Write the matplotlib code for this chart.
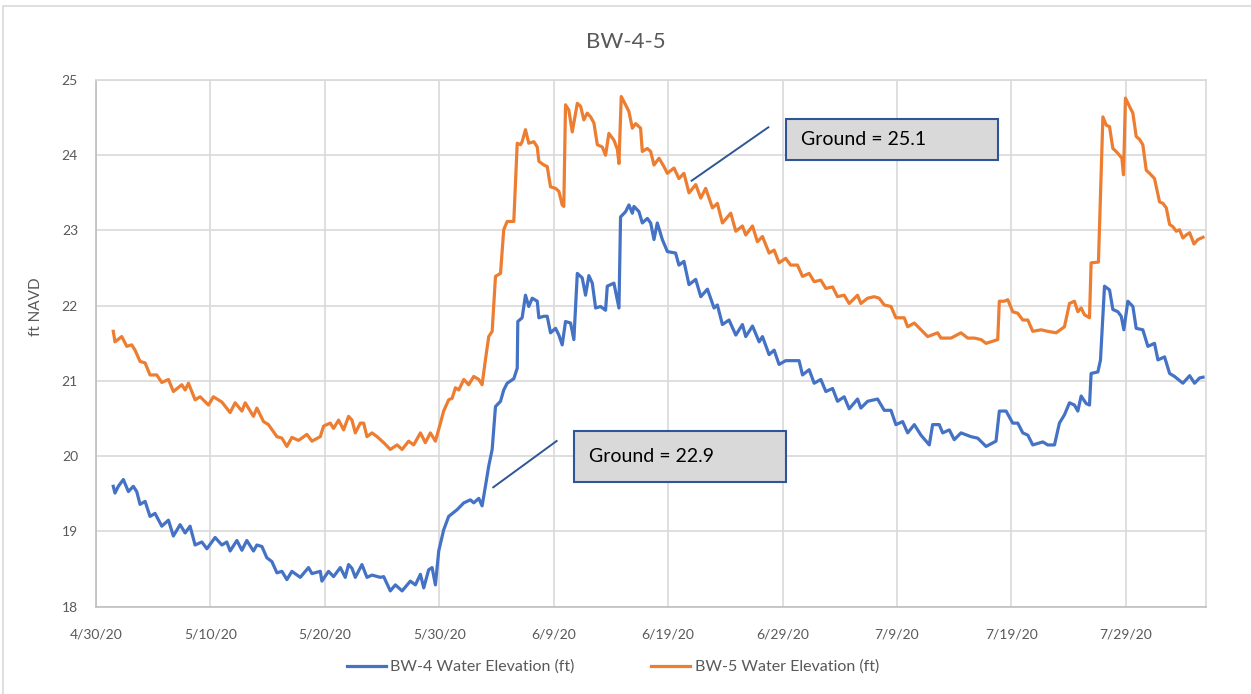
# python 3

import numpy as np
import pandas as pd
import matplotlib.pyplot as plt
import matplotlib.dates as mdates
from matplotlib.patches import Rectangle
from matplotlib.lines import Line2D

# days after 4/30/20 and water elevations (ft NAVD)
start = pd.Timestamp('2020-04-30')

bw4_days = [1.51, 1.66, 1.95, 2.39, 2.83, 3.26, 3.56, 3.85, 4.29, 4.72, 5.16, 5.75, 6.33, 6.76, 7.35, 7.79,
            8.22, 8.66, 9.25, 9.69, 10.41, 11.00, 11.43, 11.72, 12.31, 12.75, 13.18, 13.76, 14.06, 14.50,
            14.93, 15.37, 15.81, 16.25, 16.68, 17.12, 17.85, 18.57, 18.87, 19.60, 19.74, 20.32, 20.76,
            21.35, 21.78, 22.07, 22.37, 22.66, 23.24, 23.68, 24.12, 24.85, 25.14, 25.72, 26.16, 26.75,
            27.47, 27.91, 28.35, 28.64, 29.07, 29.37, 29.66, 29.95, 30.38, 30.82, 31.56, 32.14, 32.72,
            33.01, 33.45, 33.74, 34.03, 34.32, 34.62, 34.91, 35.35, 35.63, 35.93, 36.51, 36.81, 36.86,
            37.24, 37.53, 37.82, 38.12, 38.56, 38.70, 39.14, 39.43, 39.72, 40.16, 40.45, 40.74, 41.03,
            41.47, 41.76, 42.06, 42.49, 42.78, 43.07, 43.37, 43.66, 44.09, 44.53, 44.68, 45.26, 45.70,
            45.84, 46.28, 46.57, 46.87, 47.01, 47.45, 47.74, 48.18, 48.47, 48.76, 49.05, 49.49, 49.93,
            50.65, 50.94, 51.38, 51.82, 52.41, 52.85, 53.43, 54.01, 54.30, 54.74, 55.32, 55.91, 56.49,
            56.78, 57.37, 57.95, 58.24, 58.82, 59.26, 59.69, 60.27, 61.44, 61.74, 62.32, 62.76, 63.34,
            63.78, 64.37, 64.80, 65.38, 65.82, 66.55, 66.84, 67.43, 68.30, 68.88, 69.47, 69.90, 70.49,
            70.93, 71.51, 72.09, 72.82, 73.11, 73.69, 73.99, 74.57, 75.00, 75.59, 76.46, 77.05, 77.78,
            78.65, 78.94, 79.53, 80.11, 80.55, 80.99, 81.43, 81.86, 82.74, 83.17, 83.76, 84.19, 84.63,
            85.07, 85.50, 85.80, 86.09, 86.53, 86.82, 86.96, 87.55, 87.78, 88.13, 88.57, 88.86, 89.30,
            89.59, 89.82, 90.17, 90.61, 90.90, 91.48, 91.92, 92.50, 92.80, 93.38, 93.82, 94.25, 94.98,
            95.57, 96.00, 96.44, 96.74]
bw4_elev = [19.60, 19.51, 19.60, 19.69, 19.53, 19.60, 19.53, 19.36, 19.40, 19.20, 19.24, 19.07, 19.15, 18.94,
            19.09, 18.98, 19.07, 18.82, 18.86, 18.77, 18.92, 18.82, 18.86, 18.74, 18.88, 18.75, 18.88,
            18.74, 18.82, 18.80, 18.65, 18.60, 18.45, 18.47, 18.36, 18.47, 18.39, 18.52, 18.44, 18.47,
            18.34, 18.47, 18.40, 18.52, 18.39, 18.56, 18.51, 18.39, 18.56, 18.39, 18.42, 18.39, 18.40,
            18.21, 18.29, 18.21, 18.34, 18.29, 18.43, 18.25, 18.49, 18.52, 18.29, 18.74, 19.02, 19.20,
            19.29, 19.38, 19.42, 19.38, 19.44, 19.34, 19.60, 19.87, 20.09, 20.66, 20.73, 20.88, 20.97,
            21.03, 21.17, 21.79, 21.84, 22.14, 21.99, 22.10, 22.06, 21.84, 21.86, 21.86, 21.64, 21.70,
            21.61, 21.48, 21.79, 21.77, 21.55, 22.43, 22.37, 22.14, 22.40, 22.30, 21.97, 21.99, 21.94,
            22.26, 22.30, 21.97, 23.18, 23.25, 23.34, 23.23, 23.32, 23.25, 23.10, 23.16, 23.10, 22.88,
            23.10, 22.88, 22.72, 22.70, 22.54, 22.59, 22.28, 22.35, 22.12, 22.22, 21.97, 22.01, 21.75,
            21.81, 21.61, 21.75, 21.59, 21.73, 21.52, 21.59, 21.35, 21.41, 21.22, 21.27, 21.27, 21.08,
            21.15, 20.97, 21.02, 20.86, 20.90, 20.73, 20.79, 20.63, 20.76, 20.64, 20.73, 20.76, 20.61,
            20.61, 20.42, 20.46, 20.31, 20.42, 20.28, 20.15, 20.42, 20.42, 20.31, 20.35, 20.22, 20.31,
            20.26, 20.24, 20.13, 20.20, 20.60, 20.60, 20.44, 20.44, 20.31, 20.28, 20.15, 20.19, 20.15,
            20.15, 20.44, 20.55, 20.71, 20.68, 20.60, 20.80, 20.70, 20.68, 21.10, 21.12, 21.28, 22.26,
            22.21, 21.95, 21.92, 21.86, 21.68, 22.06, 21.99, 21.70, 21.68, 21.46, 21.50, 21.28, 21.32,
            21.10, 21.06, 20.97, 21.07, 20.97, 21.04, 21.05]

bw5_days = [1.51, 1.66, 2.25, 2.69, 3.12, 3.41, 3.85, 4.29, 4.72, 5.31, 5.75, 6.33, 6.76, 7.50, 7.79, 8.08,
            8.66, 9.10, 9.83, 10.26, 11.00, 11.72, 12.16, 12.75, 13.04, 13.76, 14.06, 14.64, 15.07,
            15.81, 16.25, 16.68, 17.12, 17.70, 18.43, 18.87, 19.60, 19.89, 20.47, 20.76, 21.20, 21.64,
            22.07, 22.37, 22.66, 23.10, 23.39, 23.68, 24.12, 24.56, 25.14, 25.72, 26.31, 26.75, 27.32,
            27.76, 28.35, 28.78, 29.22, 29.66, 30.10, 30.38, 30.82, 31.12, 31.41, 31.70, 32.14, 32.57,
            33.01, 33.45, 33.74, 34.03, 34.32, 34.62, 34.91, 35.35, 35.63, 35.93, 36.51, 36.81, 37.10,
            37.24, 37.53, 37.82, 38.26, 38.56, 38.70, 39.14, 39.43, 39.72, 40.16, 40.45, 40.74, 40.88,
            41.03, 41.32, 41.62, 42.06, 42.35, 42.63, 42.93, 43.22, 43.51, 43.81, 44.24, 44.53, 44.82,
            45.26, 45.56, 45.70, 45.90, 46.28, 46.57, 46.87, 47.16, 47.59, 47.74, 48.18, 48.47, 48.76,
            49.20, 49.63, 49.93, 50.51, 50.94, 51.38, 51.82, 52.41, 52.85, 53.28, 53.87, 54.30, 54.74,
            55.47, 55.91, 56.49, 56.78, 57.37, 57.80, 58.24, 58.82, 59.26, 59.69, 60.27, 60.70, 61.30,
            61.74, 62.32, 62.76, 63.34, 63.78, 64.37, 64.80, 65.38, 65.82, 66.55, 66.84, 67.43, 68.00,
            68.44, 68.88, 69.47, 69.90, 70.63, 70.93, 71.51, 72.09, 72.68, 73.55, 73.84, 74.72, 75.59,
            76.18, 76.76, 77.34, 77.78, 78.80, 78.94, 79.38, 79.68, 80.11, 80.55, 80.99, 81.43, 81.86,
            82.59, 83.17, 83.90, 84.63, 85.07, 85.50, 85.80, 86.09, 86.38, 86.82, 86.96, 87.60, 87.99,
            88.28, 88.57, 88.86, 89.15, 89.44, 89.65, 89.79, 89.96, 90.31, 90.61, 90.90, 91.19, 91.48,
            91.78, 92.07, 92.50, 92.94, 93.24, 93.53, 93.82, 94.11, 94.40, 94.69, 94.98, 95.27, 95.57,
            95.95, 96.30, 96.74]
bw5_elev = [21.66, 21.52, 21.59, 21.46, 21.48, 21.41, 21.26, 21.24, 21.08, 21.08, 20.98, 21.02, 20.86, 20.95,
            20.88, 20.97, 20.75, 20.79, 20.68, 20.79, 20.72, 20.58, 20.71, 20.60, 20.71, 20.53, 20.64,
            20.46, 20.42, 20.26, 20.24, 20.13, 20.25, 20.21, 20.29, 20.20, 20.26, 20.40, 20.44, 20.37,
            20.48, 20.35, 20.53, 20.48, 20.31, 20.44, 20.44, 20.26, 20.31, 20.26, 20.18, 20.09, 20.15,
            20.09, 20.20, 20.15, 20.31, 20.18, 20.31, 20.20, 20.44, 20.60, 20.75, 20.77, 20.91, 20.88,
            21.02, 20.95, 21.06, 21.02, 20.95, 21.28, 21.59, 21.66, 22.39, 22.43, 23.01, 23.12, 23.12,
            24.16, 24.14, 24.18, 24.34, 24.16, 24.18, 24.11, 23.92, 23.87, 23.85, 23.58, 23.56, 23.52,
            23.34, 23.32, 24.67, 24.60, 24.31, 24.69, 24.65, 24.47, 24.56, 24.51, 24.43, 24.14, 24.11,
            24.00, 24.29, 24.20, 24.08, 23.89, 24.78, 24.67, 24.58, 24.36, 24.42, 24.36, 24.05, 24.09,
            24.05, 23.87, 23.96, 23.85, 23.76, 23.83, 23.69, 23.76, 23.50, 23.61, 23.43, 23.56, 23.30,
            23.36, 23.10, 23.23, 22.99, 23.06, 22.94, 23.06, 22.85, 22.92, 22.70, 22.74, 22.57, 22.63,
            22.54, 22.54, 22.39, 22.43, 22.32, 22.34, 22.23, 22.25, 22.12, 22.14, 22.03, 22.14, 22.03,
            22.10, 22.12, 22.10, 22.01, 21.99, 21.84, 21.84, 21.72, 21.77, 21.68, 21.59, 21.64, 21.57,
            21.57, 21.64, 21.57, 21.57, 21.55, 21.50, 21.55, 22.06, 22.06, 22.08, 21.92, 21.90, 21.81,
            21.81, 21.66, 21.68, 21.66, 21.64, 21.72, 22.03, 22.06, 21.92, 21.97, 21.88, 21.84, 22.57,
            22.58, 24.51, 24.40, 24.38, 24.09, 24.05, 24.00, 23.96, 23.74, 24.76, 24.65, 24.56, 24.25,
            24.21, 24.14, 23.80, 23.76, 23.69, 23.38, 23.36, 23.30, 23.08, 23.05, 22.99, 23.01, 22.90,
            22.94, 22.97, 22.82, 22.88, 22.91]

ground_labels = ['Ground = 25.1', 'Ground = 22.9']

bw4_t = start + pd.to_timedelta(np.array(bw4_days), unit='D')
bw5_t = start + pd.to_timedelta(np.array(bw5_days), unit='D')

plt.rcParams['font.family'] = ['Lato', 'DejaVu Sans']
grey = '#595959'

fig = plt.figure(figsize=(12.51, 6.94), dpi=100)
ax = fig.add_axes([96 / 1251, 1 - 606.7 / 694, 1110 / 1251, 526.7 / 694])

ax.plot(bw4_t, bw4_elev, color='#4472c4', lw=2.3, label='BW-4 Water Elevation (ft)')
ax.plot(bw5_t, bw5_elev, color='#ed7d31', lw=2.3, label='BW-5 Water Elevation (ft)')

ax.set_xlim(start, start + pd.Timedelta(days=97))
ax.set_ylim(18, 25)
ax.set_xticks([start + pd.Timedelta(days=10 * i) for i in range(10)])
ax.xaxis.set_major_formatter(plt.FuncFormatter(
    lambda v, p: '{d.month}/{d.day}/{y}'.format(d=mdates.num2date(v), y=mdates.num2date(v).strftime('%y'))))
ax.set_yticks(range(18, 26))
ax.grid(True, color='#d9d9d9', lw=1.2)
ax.set_axisbelow(True)
ax.tick_params(length=0, labelsize=10, labelcolor=grey)
ax.tick_params(axis='x', pad=16)
ax.tick_params(axis='y', pad=13)
for s in ax.spines.values():
    s.set_color('#d9d9d9')
    s.set_linewidth(1.2)
ax.spines['left'].set_color('#bfbfbf')
ax.spines['bottom'].set_color('#bfbfbf')

ax.set_ylabel('ft NAVD', fontsize=11, color=grey)
ax.yaxis.set_label_coords(-0.048, 0.57)

fig.text(0.5, 1 - 42 / 694, 'BW-4-5', ha='center', va='center', fontsize=16, color=grey)

# text boxes with pointer lines (axes fractions)
boxes = [(0.6216, 0.848, 0.191, 0.0774), (0.4306, 0.2373, 0.191, 0.0963)]
pointers = [((0.6057, 0.5366), (0.9102, 0.8088)), ((0.4150, 0.3579), (0.3146, 0.2267))]
for (x0, y0, w, h), (px, py), lab in zip(boxes, pointers, ground_labels):
    ax.add_patch(Rectangle((x0, y0), w, h, transform=ax.transAxes, facecolor='#d9d9d9',
                           edgecolor='#2f5597', lw=1.5, zorder=5))
    ax.text(x0 + 0.0135, y0 + h / 2, lab, transform=ax.transAxes, ha='left', va='center',
            fontsize=14, color='black', zorder=6)
    ax.add_line(Line2D(px, py, transform=ax.transAxes, color='#2f5597', lw=1.4, zorder=5))

ax.legend(loc='center', bbox_to_anchor=(0.49, 1 - 667 / 694), bbox_transform=fig.transFigure,
          ncol=2, frameon=False, fontsize=11.5, labelcolor=grey, handlelength=2.4,
          columnspacing=4.8, handletextpad=0.3)

# outer chart border
fig.add_artist(Line2D([3 / 1251, 3 / 1251, 1], [0, 1 - 6 / 694, 1 - 6 / 694],
                      transform=fig.transFigure, color='#d9d9d9', lw=1.2))

fig.savefig('out.png', dpi=100)
